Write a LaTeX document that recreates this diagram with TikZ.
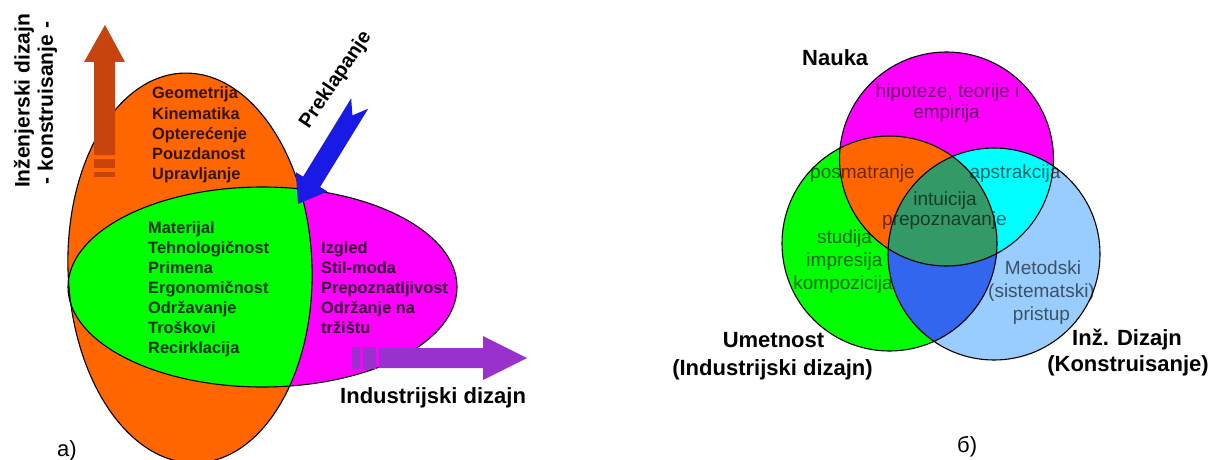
\documentclass[tikz,border=0pt]{standalone}
\usepackage{fontspec}
\setmainfont{Liberation Sans}
\newcommand\myfs[1]{\fontsize{#1}{#1}\selectfont}
\definecolor{orangeF}{HTML}{FF6600}
\definecolor{greenF}{HTML}{00FF00}
\definecolor{magF}{HTML}{FF00FF}
\definecolor{lblueF}{HTML}{99CCFF}
\definecolor{cyanF}{HTML}{00FFFF}
\definecolor{dgreenF}{HTML}{339966}
\definecolor{blueF}{HTML}{3366EE}
\definecolor{redA}{HTML}{C8440F}
\definecolor{purpA}{HTML}{9932CC}
\definecolor{blueA}{HTML}{1A1AE6}
\begin{document}
\begin{tikzpicture}[x=1pt,y=-1pt,
  outl/.style={draw=black,line width=1.1pt},
  lst/.style={anchor=base west,inner sep=0pt,font={\myfs{16.4}\bfseries},text opacity=0.8},
  inr/.style={anchor=base,inner sep=0pt,font={\myfs{19}},text opacity=0.6},
  lbl/.style={anchor=base,inner sep=0pt,font={\myfs{22}\bfseries}},
  vlbl/.style={inner sep=0pt,rotate=90,font={\myfs{21}\bfseries}},
  tag/.style={anchor=base west,inner sep=0pt,font={\myfs{22}}}]
\useasboundingbox (0,0) rectangle (1221,460);
\fill[white] (0,0) rectangle (1221,460);
% ---------- left diagram ----------
\coordinate (cO) at (190,268);
\coordinate (cH) at (262.5,287);
\def\orangeshape{[rotate around={2:(cO)}] (cO) ellipse [x radius=122, y radius=195]}
\fill[magF] (cH) ellipse [x radius=194.5, y radius=100];
\fill[orangeF] \orangeshape;
\begin{scope}
  \clip \orangeshape;
  \fill[greenF] (cH) ellipse [x radius=194.5, y radius=100];
\end{scope}
\draw[outl] \orangeshape;
\draw[outl] (cH) ellipse [x radius=194.5, y radius=100];
% red arrow up
\fill[redA] (105,25) -- (125,62) -- (115,62) -- (115,155) -- (94,155) -- (94,62) -- (84,62) -- cycle;
\fill[redA] (94,159) rectangle (115,168);
\fill[redA] (94,172) rectangle (115,177);
% blue arrow
\fill[blueA] (298,204) -- (327.4,191.5) -- (320.1,187.0) -- (368.2,108.7) -- (352.4,115.4) -- (351.2,98.3) -- (303.1,176.6) -- (295.8,172.1) -- cycle;
% purple arrow
\fill[purpA] (352,347) rectangle (360,369);
\fill[purpA] (363,347) rectangle (376,369);
\fill[purpA] (379,348) -- (483,348) -- (483,336) -- (527,358) -- (483,380) -- (483,368) -- (379,368) -- cycle;
% texts
\node[vlbl] (ing) at (24,101) {Inženjerski dizajn};
\node[vlbl] (kon) at (47.5,103) {- konstruisanje -};
\node[inner sep=0pt,rotate=56,font={\myfs{20}\bfseries}] (prek) at (336,80) {Preklapanje};
\foreach \t [count=\i] in {Geometrija,Kinematika,Opterećenje,Pouzdanost,Upravljanje}
  \node[lst] (o\i) at (152,79+20*\i) {\t};
\foreach \t [count=\i] in {Materijal,Tehnologičnost,Primena,Ergonomičnost,Održavanje,Troškovi,Recirklacija}
  \node[lst] (g\i) at (148,213+20*\i) {\t};
\foreach \t [count=\i] in {Izgled,Stil-moda,Prepoznatljivost,Održanje na,tržištu}
  \node[lst] (m\i) at (321,233+20*\i) {\t};
\node[anchor=base west,inner sep=0pt,font={\myfs{22}\bfseries}] (ind) at (340,403) {Industrijski dizajn};
\node[tag] (ta) at (57,456) {a)};
% ---------- right diagram ----------
\coordinate (cM) at (946.5,159);
\coordinate (cG) at (889.5,243.5);
\coordinate (cB) at (994,254);
\fill[lblueF] (cB) circle [radius=106];
\fill[greenF] (cG) circle [radius=107.5];
\fill[magF] (cM) circle [radius=107];
\begin{scope}
  \clip (cG) circle [radius=107.5];
  \fill[blueF] (cB) circle [radius=106];
\end{scope}
\begin{scope}
  \clip (cM) circle [radius=107];
  \fill[orangeF] (cG) circle [radius=107.5];
  \fill[cyanF] (cB) circle [radius=106];
  \clip (cG) circle [radius=107.5];
  \fill[dgreenF] (cB) circle [radius=106];
\end{scope}
\draw[outl] (cM) circle [radius=107];
\draw[outl] (cG) circle [radius=107.5];
\draw[outl] (cB) circle [radius=106];
\node[inr] (t1) at (947.5,98) {hipoteze, teorije i};
\node[inr] (t2) at (946.5,118) {empirija};
\node[inr] (t3) at (862.5,178) {posmatranje};
\node[inr] (t4) at (1015,178) {apstrakcija};
\node[inr] (t5) at (945,205) {intuicija};
\node[inr] (t6) at (944.5,225) {prepoznavanje};
\node[inr] (t7) at (844.5,243) {studija};
\node[inr] (t8) at (844.5,266) {impresija};
\node[inr] (t9) at (843,289) {kompozicija};
\node[inr] (t10) at (1043,274) {Metodski};
\node[inr] (t11) at (1041.5,297) {(sistematski)};
\node[inr] (t12) at (1041.5,320) {pristup};
\node[anchor=base west,inner sep=0pt,font={\myfs{22}\bfseries}] (nauka) at (802,66) {Nauka};
\node[lbl] (um1) at (773.5,347.5) {Umetnost};
\node[lbl] (um2) at (772.5,375) {(Industrijski dizajn)};
\node[lbl] (in1) at (1127,345) {Inž. Dizajn};
\node[lbl] (in2) at (1128,371) {(Konstruisanje)};
\node[tag] (tb) at (957,452) {б)};
\end{tikzpicture}
\end{document}
